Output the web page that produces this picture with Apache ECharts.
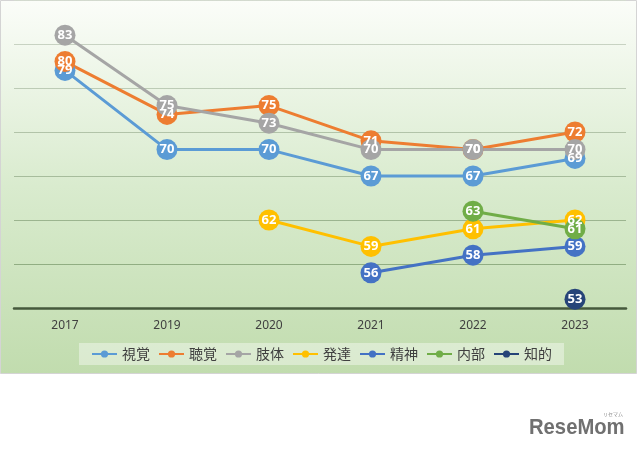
<!DOCTYPE html>
<html>
<head>
<meta charset="utf-8">
<script src="https://cdn.jsdelivr.net/npm/echarts@6/dist/echarts.min.js"></script>
<style>
html,body{margin:0;padding:0;background:#fff;}
#chart{width:640px;height:453px;}
</style>
</head>
<body>
<div id="chart"></div>
<script>
const categories = ['2017', '2019', '2020', '2021', '2022', '2023'];
const seriesNames = ['視覚', '聴覚', '肢体', '発達', '精神', '内部', '知的'];
const shikaku  = [79, 70, 70, 67, 67, 69];
const choukaku = [80, 74, 75, 71, 70, 72];
const shitai   = [83, 75, 73, 70, 70, 70];
const hattatsu = [null, null, 62, 59, 61, 62];
const seishin  = [null, null, null, 56, 58, 59];
const naibu    = [null, null, null, null, 63, 61];
const chiteki  = [null, null, null, null, null, 53];
const seriesValues = [shikaku, choukaku, shitai, hattatsu, seishin, naibu, chiteki];
const colors = ['#5b9bd5', '#ed7d31', '#a5a5a5', '#ffc000', '#4472c4', '#70ad47', '#264478'];

const chart = echarts.init(document.getElementById('chart'), null, {renderer: 'canvas'});

const series = seriesNames.map((name, i) => ({
  name: name,
  type: 'line',
  data: seriesValues[i],
  symbol: 'circle',
  symbolSize: 21,
  lineStyle: {width: 3, color: colors[i]},
  itemStyle: {color: colors[i]},
  label: {
    show: true,
    position: 'inside',
    color: '#ffffff',
    fontWeight: 'bold',
    fontSize: 13,
    fontFamily: 'Noto Sans'
  },
  emphasis: {disabled: true},
  animation: false
}));

chart.setOption({
  animation: false,
  graphic: [
    {
      type: 'rect',
      z: -10,
      silent: true,
      shape: {x: 0.5, y: 0.5, width: 636, height: 373},
      style: {
        fill: new echarts.graphic.LinearGradient(0, 0, 0, 1, [
          {offset: 0, color: '#fbfdf9'},
          {offset: 0.5, color: '#d9ebce'},
          {offset: 1, color: '#c1dcae'}
        ]),
        stroke: '#d4d4d4',
        lineWidth: 1
      }
    },
    {
      type: 'text',
      silent: true,
      x: 529,
      y: 417,
      scaleX: 0.92,
      style: {
        text: 'ReseMom',
        font: 'bold 22px "Liberation Sans", sans-serif',
        fill: '#707070'
      }
    },
    {
      type: 'text',
      silent: true,
      left: 603,
      top: 412,
      style: {
        text: 'リセマム',
        font: '5px "Noto Sans CJK JP"',
        fill: '#8a8a8a'
      }
    }
  ],
  color: colors,
  grid: {left: 14, right: 14, top: -4, height: 312, containLabel: false},
  legend: {
    data: seriesNames,
    left: 79,
    top: 343,
    padding: [4, 12, 4, 12],
    backgroundColor: 'rgba(255,255,255,0.4)',
    itemWidth: 25,
    itemHeight: 9,
    itemGap: 8,
    textStyle: {fontSize: 14, color: '#404040', fontFamily: 'Noto Sans CJK JP'}
  },
  xAxis: {
    type: 'category',
    data: categories,
    boundaryGap: true,
    axisLine: {show: true, lineStyle: {color: '#46593c', width: 2.5}},
    axisTick: {show: false},
    axisLabel: {color: '#404040', fontSize: 12, margin: 12, fontFamily: 'Noto Sans'}
  },
  yAxis: {
    type: 'value',
    min: 52,
    max: 87,
    interval: 5,
    axisLabel: {show: false},
    axisLine: {show: false},
    axisTick: {show: false},
    splitLine: {
      lineStyle: {
        width: 1,
        color: new echarts.graphic.LinearGradient(0, 0, 0, 308, [
          {offset: 0, color: '#d3dacf'},
          {offset: 1, color: '#86a676'}
        ], true)
      }
    }
  },
  series: series
});
</script>
</body>
</html>
